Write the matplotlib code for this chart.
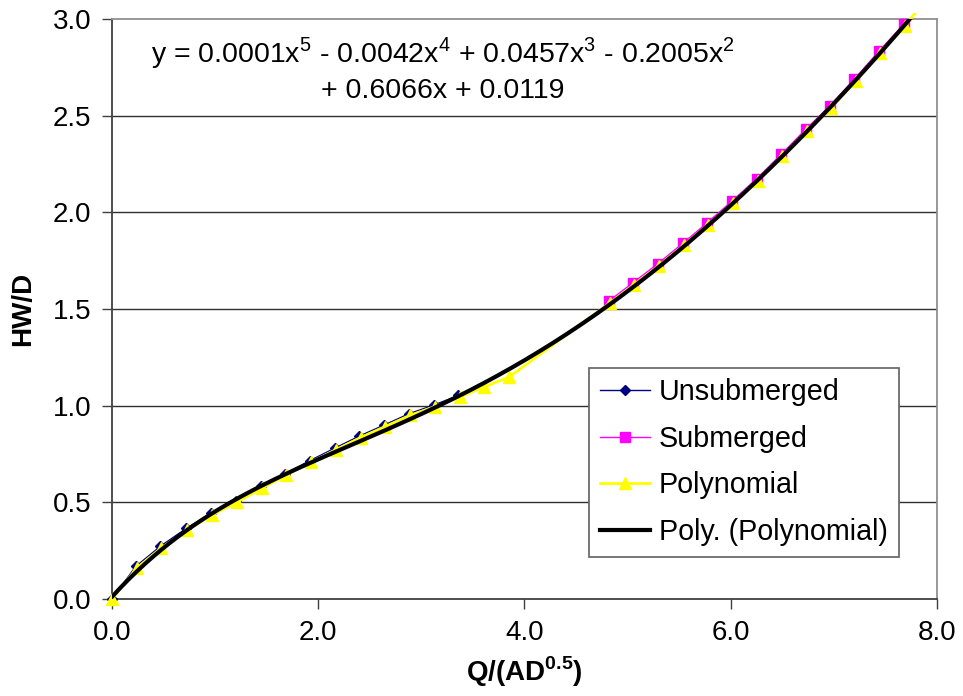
import numpy as np
import matplotlib
matplotlib.use("Agg")
import matplotlib.pyplot as plt
from matplotlib.transforms import Bbox, TransformedBbox

plt.rcParams['font.family'] = ['Liberation Sans', 'DejaVu Sans']
plt.rcParams['mathtext.fontset'] = 'custom'
plt.rcParams['mathtext.rm'] = 'Liberation Sans'
plt.rcParams['mathtext.bf'] = 'Liberation Sans:bold'

# Unsubmerged inlet-control measurements
unsub_x = [0.0, 0.23, 0.47, 0.72, 0.96, 1.20, 1.445, 1.68, 1.92, 2.16, 2.40, 2.64, 2.88, 3.12, 3.36]
unsub_y = [0.0, 0.168, 0.273, 0.365, 0.443, 0.508, 0.582, 0.649, 0.716, 0.780, 0.843, 0.900,
           0.958, 1.003, 1.053]

# Submerged inlet-control measurements
sub_x = [4.82, 5.05, 5.29, 5.54, 5.77, 6.01, 6.25, 6.49, 6.73, 6.96, 7.20, 7.44, 7.68]
sub_y = [1.542, 1.635, 1.733, 1.842, 1.945, 2.057, 2.173, 2.300, 2.431, 2.550, 2.690, 2.835, 2.974]

# Combined series used for the polynomial trendline
poly_x = [0.0, 0.24, 0.48, 0.73, 0.97, 1.21, 1.455, 1.69, 1.93, 2.17, 2.41, 2.65, 2.89, 3.13,
          3.37, 3.61, 3.85, 4.83, 5.06, 5.30, 5.55, 5.78, 6.02, 6.26, 6.50, 6.74, 6.97, 7.21,
          7.45, 7.69, 7.93]
poly_y = [0.0, 0.16, 0.265, 0.357, 0.435, 0.50, 0.574, 0.641, 0.708, 0.772, 0.835, 0.892, 0.950,
          0.995, 1.045, 1.097, 1.148, 1.532, 1.625, 1.723, 1.832, 1.935, 2.047, 2.163, 2.290,
          2.421, 2.540, 2.680, 2.825, 2.964, 3.13]

x_ticks = [0.0, 2.0, 4.0, 6.0, 8.0]
y_ticks = [0.0, 0.5, 1.0, 1.5, 2.0, 2.5, 3.0]

equation = ("y = 0.0001x$^5$ - 0.0042x$^4$ + 0.0457x$^3$ - 0.2005x$^2$\n"
            "+ 0.6066x + 0.0119")

fig = plt.figure(figsize=(9.63, 6.96), dpi=100)
ax = fig.add_axes([0.1163, 0.1394, 0.8567, 0.8333])

ax.set_xlim(0, 8)
ax.set_ylim(0, 3)

# horizontal gridlines
for yv in y_ticks[1:-1]:
    ax.axhline(yv, color='#303030', lw=1.0, zorder=1)

# markers may spill a little past the plot frame
spill = TransformedBbox(Bbox([[-0.02, -0.02], [1.0, 1.01]]), ax.transAxes)

l1, = ax.plot(unsub_x, unsub_y, color='#000080', lw=1.0, marker='D', ms=5.5,
              mfc='#000080', mec='#000080', label='Unsubmerged', zorder=3)
l2, = ax.plot(sub_x, sub_y, color='#FF00FF', lw=1.0, marker='s', ms=6.5,
              mfc='#FF00FF', mec='#FF00FF', label='Submerged', zorder=3)
l3, = ax.plot(poly_x, poly_y, color='#FFFF00', lw=2.0, marker='^', ms=9,
              mfc='#FFFF00', mec='#FFFF00', label='Polynomial', zorder=4)
for ln in (l1, l2, l3):
    ln.set_clip_box(spill)

# 5th-order least-squares trendline through the polynomial series
coef = np.polyfit(poly_x, poly_y, 5)
xt = np.linspace(min(poly_x), max(poly_x), 300)
ax.plot(xt, np.polyval(coef, xt), color='black', lw=3.0, label='Poly. (Polynomial)', zorder=5)

ax.set_xticks(x_ticks)
ax.set_yticks(y_ticks)
ax.set_xticklabels([f"{v:.1f}" for v in x_ticks])
ax.set_yticklabels([f"{v:.1f}" for v in y_ticks])
ax.tick_params(axis='both', direction='out', length=7, width=1, colors='#404040',
               labelcolor='black', labelsize=20)
ax.tick_params(axis='x', pad=8)
ax.tick_params(axis='y', pad=8)

for s in ['left', 'bottom']:
    ax.spines[s].set_color('#404040')
    ax.spines[s].set_linewidth(1.3)
for s in ['top', 'right']:
    ax.spines[s].set_color('#909090')
    ax.spines[s].set_linewidth(1.3)

ax.set_xlabel('Q/(AD$^{\\mathbf{0.5}}$)', fontsize=20, fontweight='bold', labelpad=6)
ax.set_ylabel('HW/D', fontsize=20, fontweight='bold', labelpad=12)

ax.text(0.401, 0.972, equation, transform=ax.transAxes, fontsize=20.5, ha='center', va='top',
        multialignment='center', linespacing=1.32)

leg = ax.legend(loc='upper left', bbox_to_anchor=(0.578, 0.399), fontsize=20.7,
                frameon=True, fancybox=False, edgecolor='#606060', framealpha=1,
                handlelength=1.75, handletextpad=0.3, labelspacing=0.64,
                borderpad=0.38, borderaxespad=0)
leg.get_frame().set_linewidth(1.2)
leg.set_zorder(10)

fig.savefig('out.png', dpi=100)
